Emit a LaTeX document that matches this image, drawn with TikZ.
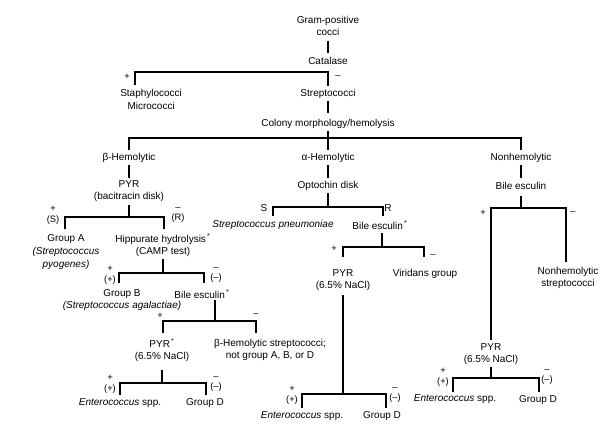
\documentclass[tikz,border=0pt]{standalone}
\usepackage{fontspec}
\setmainfont{Liberation Sans}
\begin{document}
\begin{tikzpicture}[x=0.75pt,y=-0.75pt,
  t/.style={font=\fontsize{7.5}{9.5}\selectfont,inner sep=0pt,align=center},
  s/.style={font=\fontsize{7}{8}\selectfont,inner sep=0pt,align=center},
  ln/.style={line width=0.9pt,black}]
\useasboundingbox[fill=white] (0,0) rectangle (616,438);
\newcommand{\myast}{\textsuperscript{\,*}}
% top
\node[t] (gpc) at (328,26) {Gram-positive\\cocci};
\node[t] (cat) at (328,61) {Catalase};
\node[t,anchor=north west] (sta) at (120,89) {Staphylococci\\Micrococci};
\node[t] (str) at (328,94) {Streptococci};
\node[t] (col) at (328,124) {Colony morphology/hemolysis};
\draw[ln] (328,41) -- (328,53);
\draw[ln] (135,85) -- (135,72) -- (328,72) -- (328,86);
\node[s] at (127,77) {+}; \node[s] at (338,77) {--};
\draw[ln] (328,101) -- (328,113);
\draw[ln] (129,150) -- (129,138) -- (521,138) -- (521,150);
\draw[ln] (328,131) -- (328,150);
\node[t] (beta) at (129,158) {β-Hemolytic};
\node[t] (alpha) at (328,158) {α-Hemolytic};
\node[t] (non) at (521,158) {Nonhemolytic};
% beta branch
\draw[ln] (129,165) -- (129,178);
\node[t] (pyr1) at (129,191) {PYR\\(bacitracin disk)};
\draw[ln] (129,205) -- (129,217);
\draw[ln] (65,229) -- (65,217) -- (164,217) -- (164,229);
\node[s] at (53,215) {+\\(S)}; \node[s] at (178,215) {--\\(R)};
\node[t] (ga) at (66,252) {Group A\\\itshape (Streptococcus\\\itshape pyogenes)};
\node[t] (hip) at (163,245) {Hippurate hydrolysis\myast\\(CAMP test)};
\draw[ln] (163,259) -- (163,273);
\draw[ln] (119,283) -- (119,273) -- (204,273) -- (204,283);
\node[s] at (110,275) {+\\(+)}; \node[s] at (216,275) {--\\(--)};
\node[t] (gb) at (122,300) {Group B\\\itshape (Streptococcus agalactiae)};
\node[t] (be1) at (202,294) {Bile esculin\myast};
\draw[ln] (215,300) -- (215,321);
\draw[ln] (163,333) -- (163,321) -- (256,321) -- (256,333);
\node[s] at (160,316) {+}; \node[s] at (256,315) {--};
\node[t] (pyr2) at (162,350) {PYR\myast\\(6.5\% NaCl)};
\node[t] (bhs) at (270,350) {β-Hemolytic streptococci;\\not group A, B, or D};
\draw[ln] (162,370) -- (162,383);
\draw[ln] (120,395) -- (120,383) -- (206,383) -- (206,395);
\node[s] at (110,384) {+\\(+)}; \node[s] at (216,384) {--\\(--)};
\node[t] (ent1) at (120,403) {\itshape Enterococcus\upshape\ spp.};
\node[t] (gd1) at (205,403) {Group D};
% alpha branch
\draw[ln] (328,165) -- (328,178);
\node[t] (opt) at (328,186) {Optochin disk};
\draw[ln] (328,193) -- (328,207);
\draw[ln] (273,216) -- (273,207) -- (383,207) -- (383,216);
\node[s,font=\fontsize{7.5}{9}\selectfont] at (264,208) {S};
\node[s,font=\fontsize{7.5}{9}\selectfont] at (388,208) {R};
\node[t] (spn) at (273,225) {\itshape Streptococcus pneumoniae};
\node[t] (be2) at (380,225) {Bile esculin\myast};
\draw[ln] (382,233) -- (382,247);
\draw[ln] (343,257) -- (343,247) -- (424,247) -- (424,257);
\node[s] at (334,249) {+}; \node[s] at (433,256) {--};
\node[t] (pyr3) at (343,280) {PYR\\(6.5\% NaCl)};
\node[t] (vir) at (425,274) {Viridans group};
\draw[ln] (343,295) -- (343,394);
\draw[ln] (302,408) -- (302,394) -- (386,394) -- (386,408);
\node[s] at (292,395) {+\\(+)}; \node[s] at (395,395) {--\\(--)};
\node[t] (ent2) at (302,416) {\itshape Enterococcus\upshape\ spp.};
\node[t] (gd2) at (382,416) {Group D};
% nonhemolytic branch
\draw[ln] (521,165) -- (521,178);
\node[t] (be3) at (521,186) {Bile esculin};
\draw[ln] (521,196) -- (521,208);
\draw[ln] (491,340) -- (491,208) -- (566,208) -- (566,262);
\node[s] at (483,213) {+}; \node[s] at (573,213) {--};
\node[t] (nhs) at (568,278) {Nonhemolytic\\streptococci};
\node[t] (pyr4) at (491,354) {PYR\\(6.5\% NaCl)};
\draw[ln] (491,367) -- (491,378);
\draw[ln] (453,392) -- (453,378) -- (539,378) -- (539,392);
\node[s] at (443,377) {+\\(+)}; \node[s] at (547,377) {--\\(--)};
\node[t] (ent3) at (455,399) {\itshape Enterococcus\upshape\ spp.};
\node[t] (gd3) at (538,400) {Group D};
\end{tikzpicture}
\end{document}
